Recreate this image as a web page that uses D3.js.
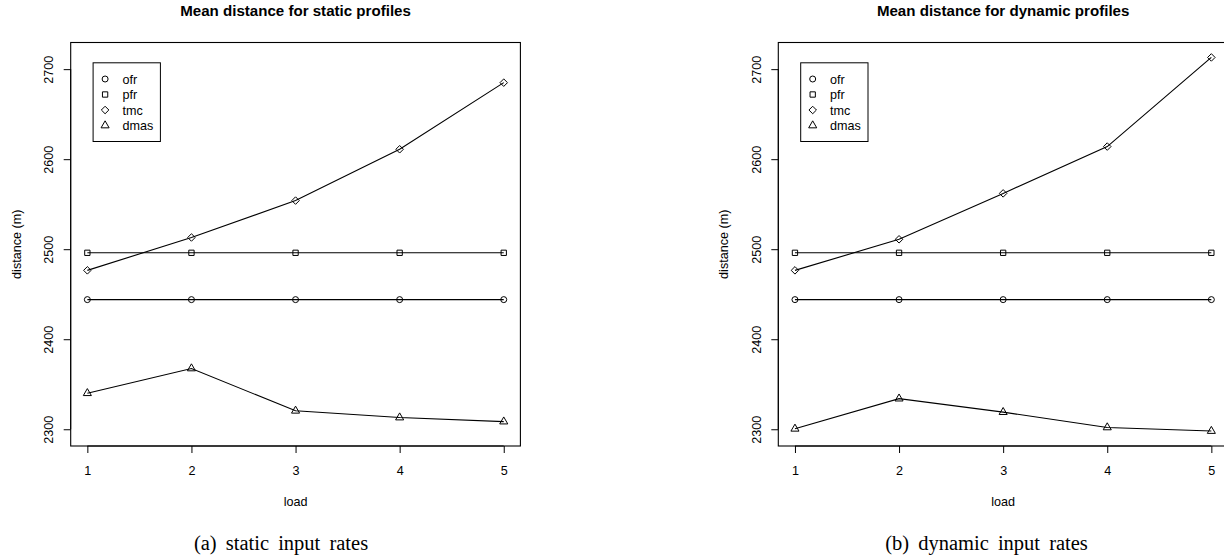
<!DOCTYPE html>
<html>
<head>
<meta charset="utf-8">
<script src="https://cdn.jsdelivr.net/npm/d3@7"></script>
<style>
  html, body { margin: 0; padding: 0; background: #fff; }
  svg { display: block; }
  text { font-family: "Liberation Sans", Arial, Helvetica, sans-serif; fill: #000; }
  .caption { font-family: "Liberation Serif", "Times New Roman", serif; }
</style>
</head>
<body>
<svg id="chart" width="1224" height="560"></svg>
<script>
// ---- data ----
const loads = [1, 2, 3, 4, 5];
const seriesNames = ["ofr", "pfr", "tmc", "dmas"];
const seriesShapes = ["circle", "square", "diamond", "triangle"];

const staticOfr  = [2444, 2444, 2444, 2444, 2444];
const staticPfr  = [2496, 2496, 2496, 2496, 2496];
const staticTmc  = [2476.5, 2513, 2554, 2611, 2685];
const staticDmas = [2340, 2367.5, 2320.5, 2313, 2308.5];

const dynamicOfr  = [2444, 2444, 2444, 2444, 2444];
const dynamicPfr  = [2496, 2496, 2496, 2496, 2496];
const dynamicTmc  = [2476.5, 2511, 2562, 2614, 2713];
const dynamicDmas = [2300.5, 2334, 2319, 2302, 2298];

const yTicks = [2300, 2400, 2500, 2600, 2700];
const xTicks = [1, 2, 3, 4, 5];

const titles = ["Mean distance for static profiles", "Mean distance for dynamic profiles"];
const captions = ["(a) static input rates", "(b) dynamic input rates"];
const xLabel = "load";
const yLabel = "distance (m)";

// ---- layout ----
const svg = d3.select("#chart");
const panels = [
  { left: 70.7, right: 520.4, series: [staticOfr, staticPfr, staticTmc, staticDmas], title: titles[0], caption: captions[0], capX: 281 },
  { left: 778.3, right: 1228.0, series: [dynamicOfr, dynamicPfr, dynamicTmc, dynamicDmas], title: titles[1], caption: captions[1], capX: 986.5 }
];
const plotTop = 42.5, plotBottom = 446;

// shared y range (R style: range of all data, extended 4%)
const allVals = panels.flatMap(p => p.series.flat());
const yMin = d3.min(allVals), yMax = d3.max(allVals);
const yPad = (yMax - yMin) * 0.04;
const y = d3.scaleLinear().domain([yMin - yPad, yMax + yPad]).range([plotBottom, plotTop]);

const xPadU = (d3.max(loads) - d3.min(loads)) * 0.04;

const R = 3.0; // R symbol radius
function symbolPath(shape, cx, cy) {
  if (shape === "circle") {
    return `M${cx - R},${cy}a${R},${R} 0 1,0 ${2 * R},0a${R},${R} 0 1,0 ${-2 * R},0Z`;
  } else if (shape === "square") {
    const h = R * 0.8862;
    return `M${cx - h},${cy - h}H${cx + h}V${cy + h}H${cx - h}Z`;
  } else if (shape === "diamond") {
    const h = R * 1.2533;
    return `M${cx},${cy - h}L${cx + h},${cy}L${cx},${cy + h}L${cx - h},${cy}Z`;
  } else {
    const xc = R * 1.3468, r = R * 1.5551, yc = R * 0.7776;
    return `M${cx},${cy - r}L${cx + xc},${cy + yc}L${cx - xc},${cy + yc}Z`;
  }
}

const baseFont = 12.6;

panels.forEach(p => {
  const x = d3.scaleLinear().domain([d3.min(loads) - xPadU, d3.max(loads) + xPadU]).range([p.left, p.right]);
  const g = svg.append("g");
  const cx = (p.left + p.right) / 2;

  // title
  g.append("text").attr("x", cx).attr("y", 16).attr("text-anchor", "middle")
    .style("font-size", "15.1px").style("font-weight", "bold").text(p.title);

  // lines & points
  const line = d3.line().x((d, i) => x(loads[i])).y(d => y(d));
  p.series.forEach((vals, si) => {
    g.append("path").attr("d", line(vals)).attr("fill", "none")
      .attr("stroke", "#000").attr("stroke-width", 1.1);
    g.selectAll(null).data(vals).enter().append("path")
      .attr("d", (d, i) => symbolPath(seriesShapes[si], x(loads[i]), y(d)))
      .attr("fill", "none").attr("stroke", "#000").attr("stroke-width", 1);
  });

  // box
  g.append("rect").attr("x", p.left).attr("y", plotTop)
    .attr("width", p.right - p.left).attr("height", plotBottom - plotTop)
    .attr("fill", "none").attr("stroke", "#000").attr("stroke-width", 1.1);

  // x axis
  const xAxis = d3.axisBottom(x).tickValues(xTicks).tickSize(7).tickPadding(0).tickFormat(d3.format("d"));
  const gx = g.append("g").attr("transform", `translate(0,${plotBottom})`).call(xAxis);
  gx.select(".domain").attr("d", `M${x(xTicks[0])},0H${x(xTicks[xTicks.length - 1])}`).attr("stroke", "#000");
  gx.selectAll(".tick line").attr("stroke", "#000");
  gx.selectAll(".tick text").attr("y", 29).attr("dy", null)
    .style("font-size", baseFont + "px").style("font-family", "'Liberation Sans', Arial, sans-serif").attr("fill", "#000");

  // y axis
  const yAxis = d3.axisLeft(y).tickValues(yTicks).tickSize(7).tickFormat(d3.format("d"));
  const gy = g.append("g").attr("transform", `translate(${p.left},0)`).call(yAxis);
  gy.select(".domain").attr("d", `M0,${y(yTicks[0])}V${y(yTicks[yTicks.length - 1])}`).attr("stroke", "#000");
  gy.selectAll(".tick line").attr("stroke", "#000");
  gy.selectAll(".tick text")
    .attr("x", null).attr("dy", null)
    .attr("transform", "translate(-17.5,0) rotate(-90)")
    .attr("text-anchor", "middle")
    .style("font-size", baseFont + "px").style("font-family", "'Liberation Sans', Arial, sans-serif").attr("fill", "#000");

  // axis labels
  g.append("text").attr("x", cx).attr("y", 506.3).attr("text-anchor", "middle")
    .style("font-size", baseFont + "px").text(xLabel);
  g.append("text").attr("transform", `translate(${p.left - 50},${(plotTop + plotBottom) / 2}) rotate(-90)`)
    .attr("text-anchor", "middle").style("font-size", baseFont + "px").text(yLabel);

  // legend
  const lg = g.append("g");
  lg.append("rect").attr("x", p.left + 22.4).attr("y", 62.8)
    .attr("width", 67.3).attr("height", 78.7)
    .attr("fill", "#fff").attr("stroke", "#000").attr("stroke-width", 1);
  const rowY = [79, 94.5, 110, 125.5];
  seriesNames.forEach((name, i) => {
    lg.append("path").attr("d", symbolPath(seriesShapes[i], p.left + 34.4, rowY[i]))
      .attr("fill", "none").attr("stroke", "#000").attr("stroke-width", 1);
    lg.append("text").attr("x", p.left + 51.7).attr("y", rowY[i] + 4.5)
      .style("font-size", baseFont + "px").text(name);
  });

  // caption
  g.append("text").attr("class", "caption").attr("x", p.capX).attr("y", 550)
    .attr("text-anchor", "middle").style("font-size", "20.5px").style("word-spacing", "4px")
    .text(p.caption);
});
</script>
</body>
</html>
